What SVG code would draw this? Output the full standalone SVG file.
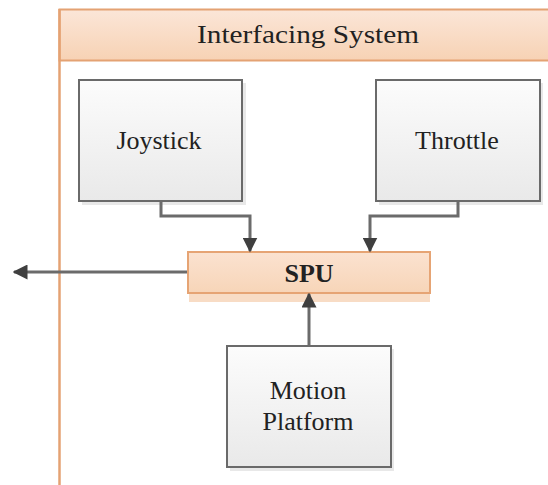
<svg xmlns="http://www.w3.org/2000/svg" width="548" height="485" viewBox="0 0 548 485">
  <defs>
    <linearGradient id="hdr" x1="0" y1="0" x2="0" y2="1">
      <stop offset="0" stop-color="#fbe6d8"/>
      <stop offset="1" stop-color="#f7d2b4"/>
    </linearGradient>
    <linearGradient id="box" x1="0" y1="0" x2="0" y2="1">
      <stop offset="0" stop-color="#fcfcfc"/>
      <stop offset="1" stop-color="#e9e9e9"/>
    </linearGradient>
    <linearGradient id="spu" x1="0" y1="0" x2="0" y2="1">
      <stop offset="0" stop-color="#fbe2d0"/>
      <stop offset="1" stop-color="#f7d5b8"/>
    </linearGradient>
    <marker id="arr" viewBox="0 0 10 10" refX="9" refY="5" markerWidth="5" markerHeight="5" markerUnits="strokeWidth" orient="auto">
      <path d="M0,0 L10,5 L0,10 z" fill="#3f3f3f"/>
    </marker>
  </defs>
  <style>
    .lbl { font-family: "Liberation Serif", "Times New Roman", serif; font-size: 26px; fill: #222222; text-anchor: middle; }
    .node { fill: url(#box); stroke: #6a6a6a; stroke-width: 2; }
    .shadow { fill: #d9d9d9; opacity: 0.6; }
    .wire { fill: none; stroke: #6b6b6b; stroke-width: 3; marker-end: url(#arr); }
  </style>

  <rect width="548" height="485" fill="#ffffff"/>

  <!-- container: Interfacing System -->
  <g id="interfacing-system">
    <rect x="59.5" y="9.5" width="500" height="51" fill="url(#hdr)" stroke="#e4a273" stroke-width="2"/>
    <line x1="59.5" y1="9" x2="59.5" y2="485" stroke="#e4a273" stroke-width="2.5"/>
    <text class="lbl" x="308" y="43" font-size="27" textLength="222" lengthAdjust="spacingAndGlyphs">Interfacing System</text>
  </g>

  <g id="joystick">
    <rect class="shadow" x="82" y="83" width="164" height="122"/>
    <rect class="node" x="79" y="80" width="163" height="121"/>
    <text class="lbl" x="159" y="149">Joystick</text>
  </g>

  <g id="throttle">
    <rect class="shadow" x="379" y="83" width="164" height="122"/>
    <rect class="node" x="376" y="80" width="164" height="121"/>
    <text class="lbl" x="457" y="149">Throttle</text>
  </g>

  <g id="spu">
    <rect x="189" y="293" width="241" height="9" fill="#f6d3b6" opacity="0.8"/>
    <rect x="188" y="252" width="242" height="41" fill="url(#spu)" stroke="#e6a474" stroke-width="2"/>
    <text class="lbl" x="309" y="282" font-size="24" font-weight="bold" fill="#1a1a1a">SPU</text>
  </g>

  <g id="motion-platform">
    <rect class="shadow" x="230" y="349" width="164" height="122"/>
    <rect class="node" x="227" y="346" width="164" height="121"/>
    <text class="lbl" x="308" y="399">Motion</text>
    <text class="lbl" x="308" y="430">Platform</text>
  </g>

  <!-- connectors -->
  <g id="connectors">
    <polyline class="wire" points="161,202 161,216 250,216 250,251"/>
    <polyline class="wire" points="458,202 458,216 370,216 370,251"/>
    <line class="wire" x1="309" y1="345" x2="309" y2="294"/>
    <line class="wire" x1="187" y1="272" x2="14" y2="272"/>
  </g>
</svg>
